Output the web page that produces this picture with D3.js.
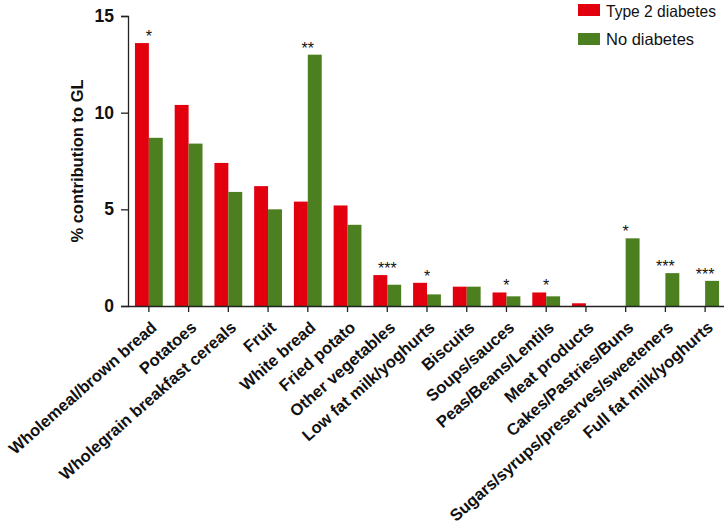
<!DOCTYPE html>
<html><head><meta charset="utf-8">
<script src="https://cdn.jsdelivr.net/npm/d3@7"></script>
<style>body{margin:0;background:#fff}svg{display:block}text{font-family:"Liberation Sans",Arial,sans-serif}</style>
</head><body>
<svg id="c" width="724" height="527"></svg>
<script>
const categories = ["Wholemeal/brown bread","Potatoes","Wholegrain breakfast cereals","Fruit","White bread","Fried potato","Other vegetables","Low fat milk/yoghurts","Biscuits","Soups/sauces","Peas/Beans/Lentils","Meat products","Cakes/Pastries/Buns","Sugars/syrups/preserves/sweeteners","Full fat milk/yoghurts"];
const type2 = [13.6,10.4,7.4,6.2,5.4,5.2,1.6,1.2,1.0,0.7,0.7,0.14,0,0,0];
const noDiab = [8.7,8.4,5.9,5.0,13.0,4.2,1.1,0.6,1.0,0.5,0.5,0,3.5,1.7,1.3];
const signif = ["*","","","","**","","***","*","","*","*","","*","***","***"];
const seriesNames = ["Type 2 diabetes","No diabetes"];
const colors = ["#e2000f","#4b7f1f"];
const yTicks = [0,5,10,15];

const svg = d3.select("#c");
const x0 = 129, x1 = 725, yTop = 16, yBot = 306;
const x = d3.scaleBand().domain(categories).range([x0,x1]).paddingInner(0.3).paddingOuter(0.15);
const xs = d3.scaleBand().domain([0,1]).range([0,x.bandwidth()]);
const y = d3.scaleLinear().domain([0,15]).range([yBot,yTop]);

// bars
const series = [type2, noDiab];
series.forEach((vals,si)=>{
  svg.append("g").selectAll("rect").data(vals).join("rect")
    .attr("x",(d,i)=>x(categories[i])+xs(si))
    .attr("width",xs.bandwidth())
    .attr("y",d=>y(d))
    .attr("height",d=>yBot-y(d))
    .attr("fill",colors[si]);
});

// y axis
const ya = svg.append("g").attr("transform",`translate(${x0-1},0)`)
  .call(d3.axisLeft(y).tickValues(yTicks).tickSize(7).tickPadding(7));
ya.select(".domain").attr("stroke","#222").attr("stroke-width",1.3);
ya.selectAll(".tick line").attr("stroke","#222").attr("stroke-width",1.3);
ya.selectAll("text").attr("font-size",17.5).attr("font-weight","bold").attr("fill","#111")
  .style("font-family","'Liberation Sans',Arial,sans-serif");

// x axis
const xa = svg.append("g").attr("transform",`translate(0,${yBot})`)
  .call(d3.axisBottom(x).tickSize(6).tickSizeOuter(0));
xa.select(".domain").attr("stroke","#222").attr("stroke-width",1.3).attr("d",`M${x0-1},0.5H${x1}`);
xa.selectAll(".tick line").attr("stroke","#222").attr("stroke-width",1.3);
xa.selectAll(".tick text").remove();

svg.append("g").selectAll("text").data(categories).join("text")
  .attr("transform",d=>`translate(${x(d)+x.bandwidth()/2+9},${yBot+23}) rotate(-41.5)`)
  .attr("text-anchor","end")
  .attr("font-size",16.5).attr("font-weight","bold").attr("fill","#111")
  .text(d=>d);

// significance stars
svg.append("g").selectAll("text").data(signif).join("text")
  .attr("x",(d,i)=>x(categories[i])+x.bandwidth()/2)
  .attr("y",(d,i)=>y(Math.max(type2[i],noDiab[i]))-1)
  .attr("text-anchor","middle").attr("font-size",16).attr("fill","#111")
  .text(d=>d);

// y label
svg.append("text").attr("transform",`translate(83,${(yTop+yBot)/2}) rotate(-90)`)
  .attr("text-anchor","middle").attr("font-size",16.5).attr("font-weight","bold").attr("fill","#111")
  .text("% contribution to GL");

// legend
const lg = svg.append("g");
seriesNames.forEach((n,i)=>{
  lg.append("rect").attr("x",578).attr("y",4+i*29).attr("width",22).attr("height",12).attr("fill",colors[i]);
  lg.append("text").attr("x",606).attr("y",16.5+i*28).attr("font-size",16.5).attr("fill","#111")
    .attr("textLength", i===0 ? 110 : null).attr("lengthAdjust","spacingAndGlyphs").text(n);
});
</script>
</body></html>
